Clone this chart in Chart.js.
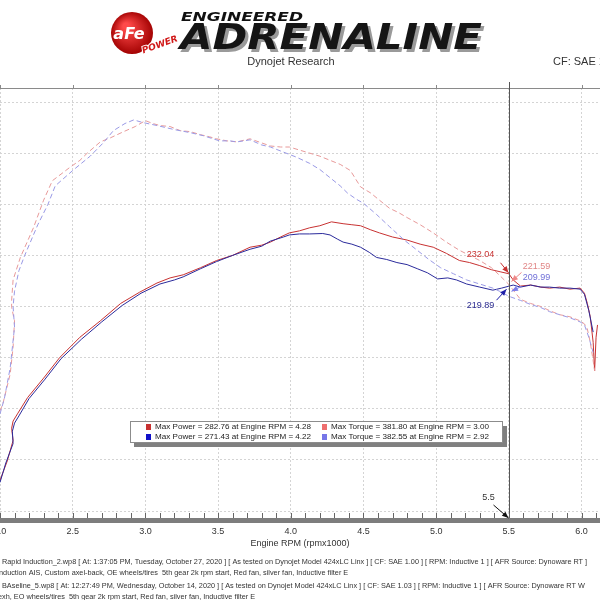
<!DOCTYPE html>
<html>
<head>
<meta charset="utf-8">
<script src="https://cdn.jsdelivr.net/npm/chart.js@4.4.1/dist/chart.umd.min.js"></script>
<style>
  html, body { margin: 0; padding: 0; background: #fff; }
  #wrap { width: 600px; height: 600px; }
</style>
</head>
<body>
<div id="wrap"><canvas id="dyno" width="600" height="600"></canvas></div>
<script>
// RUN 1 - Rapid Induction (red)
const redPowerRpm = [2.00,2.05,2.09,2.08,2.09,2.12,2.19,2.30,2.41,2.55,2.69,2.83,2.96,3.08,3.17,3.26,3.38,3.49,3.60,3.72,3.80,3.86,3.93,3.99,4.06,4.13,4.20,4.28,4.36,4.42,4.48,4.55,4.61,4.70,4.80,4.89,4.98,5.07,5.16,5.23,5.30,5.38,5.44,5.50,5.53,5.58,5.65,5.72,5.78,5.85,5.92,5.99,6.02,6.04,6.06,6.08,6.09,6.10,6.11];
const redPower    = [30,49,69,81,88,95,111,130,150,170,186,203,214,223,228,231,238,245,250,258,260,263,268,272,274,277,279,282.8,281,280,279,275,272,268,265,261,258,252,245,243,240,236,234,232.04,226,220,221,219,218,219,217,218,213,203,190,165,137,170,182];
const redTorqueRpm = [2.00,2.02,2.07,2.09,2.10,2.08,2.08,2.09,2.14,2.23,2.30,2.36,2.48,2.55,2.60,2.69,2.76,2.85,2.93,3.00,3.05,3.10,3.17,3.24,3.31,3.38,3.44,3.49,3.56,3.63,3.72,3.80,3.86,3.93,3.99,4.06,4.13,4.20,4.27,4.34,4.41,4.48,4.55,4.61,4.68,4.74,4.80,4.89,4.98,5.07,5.16,5.23,5.30,5.38,5.44,5.50,5.58,5.65,5.72,5.78,5.85,5.92,5.99,6.02,6.04,6.06,6.08,6.09];
const redTorque    = [98,105,134,160,186,199,206,226,248,277,304,323,336,343,350,361,365,371,376,381.8,379,377,376,372,371,368,366,364,362,361,364,360,357,356,356,353,350,347,343,339,333,317,311,304,296,292,287,280,272,263,255,250,245,238,230,221.59,207,203,200,196,192,190,186,183,178,165,147,137];

// RUN 2 - Baseline (blue)
const bluePowerRpm = [2.00,2.04,2.09,2.085,2.10,2.13,2.20,2.31,2.42,2.56,2.70,2.84,2.97,3.10,3.20,3.26,3.38,3.49,3.60,3.72,3.80,3.86,3.95,3.99,4.06,4.13,4.22,4.27,4.32,4.36,4.42,4.48,4.54,4.59,4.66,4.73,4.80,4.87,4.94,5.01,5.08,5.14,5.21,5.30,5.39,5.45,5.50,5.53,5.58,5.65,5.72,5.78,5.85,5.92,5.99,6.02,6.05,6.08];
const bluePower    = [28,47,66,78,86,93,110,129,149,168,185,201,213,222,226,229,237,244,250,256,259,264,268,270,271,271,271.4,270,266,263,261,258,253,248,246,243,241,237,233,227,228,226,222,219,216,218,219.89,221,219,221,219,219,218,218,217,212,196,175];
const blueTorqueRpm = [2.00,2.03,2.07,2.10,2.09,2.10,2.13,2.17,2.26,2.33,2.38,2.50,2.62,2.71,2.78,2.86,2.92,2.98,3.08,3.14,3.20,3.31,3.40,3.51,3.58,3.63,3.72,3.80,3.86,3.95,4.04,4.13,4.20,4.27,4.34,4.39,4.45,4.50,4.59,4.68,4.78,4.87,4.95,5.03,5.12,5.21,5.30,5.39,5.45,5.50,5.58,5.65,5.72,5.78,5.85,5.92,5.99,6.02,6.05,6.08];
const blueTorque    = [95,110,140,180,200,215,235,250,280,300,318,333,347,360,372,379,382.5,380,377,375,373,370,367,362,362,361,363,358,356,351,346,340,334,326,318,311,305,301,290,278,265,255,246,238,232,226,222,218,214,209.99,206,202,199,195,192,189,185,182,170,155];

// axis / cursor
const rpmTicks = [2.0,2.5,3.0,3.5,4.0,4.5,5.0,5.5,6.0];
const valueTicks = [0,50,100,150,200,250,300,350,400];
const cursorRpm = 5.5;

// legend + cursor readouts
const legendRows = [
  ["Max Power = 282.76 at Engine RPM = 4.28", "Max Torque = 381.80 at Engine RPM = 3.00"],
  ["Max Power = 271.43 at Engine RPM = 4.22", "Max Torque = 382.55 at Engine RPM = 2.92"]
];
const cursorValues = [232.04, 221.59, 209.99, 219.89];

const footerLines = [
  "Rapid Induction_2.wp8 [ At: 1:37:05 PM, Tuesday, October 27, 2020 ] [ As tested on Dynojet Model 424xLC Linx ] [ CF: SAE 1.00 ] [ RPM: Inductive 1 ] [ AFR Source: Dynoware RT ]",
  "Induction AIS, Custom axel-back, OE wheels/tires  5th gear 2k rpm start, Red fan, silver fan, Inductive filter E",
  "BAseline_5.wp8 [ At: 12:27:49 PM, Wednesday, October 14, 2020 ] [ As tested on Dynojet Model 424xLC Linx ] [ CF: SAE 1.03 ] [ RPM: Inductive 1 ] [ AFR Source: Dynoware RT W",
  "exh, EO wheels/tires  5th gear 2k rpm start, Red fan, silver fan, Inductive filter E"
];

const RED = "#c83232", BLUE = "#2b2b9c", RED_T = "#e89a9a", BLUE_T = "#9a9ae6";

const pts = (xs, ys) => xs.map((x, i) => ({x: x, y: ys[i]}));

const arrow = (ctx, x1, y1, x2, y2, color) => {
  ctx.strokeStyle = color; ctx.fillStyle = color; ctx.lineWidth = 1;
  ctx.beginPath(); ctx.moveTo(x1, y1); ctx.lineTo(x2, y2); ctx.stroke();
  const a = Math.atan2(y2 - y1, x2 - x1);
  ctx.beginPath();
  ctx.moveTo(x2, y2);
  ctx.lineTo(x2 - 7 * Math.cos(a - 0.4), y2 - 7 * Math.sin(a - 0.4));
  ctx.lineTo(x2 - 7 * Math.cos(a + 0.4), y2 - 7 * Math.sin(a + 0.4));
  ctx.closePath(); ctx.fill();
}

const fitText = (ctx, text, x, y, w) => {
  const m = ctx.measureText(text).width;
  ctx.save(); ctx.translate(x, y); ctx.scale(w / m, 1);
  ctx.fillText(text, 0, 0); ctx.restore();
}

const extras = {
  id: "dynoExtras",
  beforeDraw(chart) {
    const ctx = chart.ctx;
    ctx.save(); ctx.fillStyle = "#fff"; ctx.fillRect(0, 0, 600, 600); ctx.restore();
  },
  afterDraw(chart) {
    const ctx = chart.ctx, xs = chart.scales.x, ys = chart.scales.y, ca = chart.chartArea;
    ctx.save();

    // HEADER LOGO
    const g = ctx.createRadialGradient(126, 26, 3, 132, 33, 22);
    g.addColorStop(0, "#ff4a4a"); g.addColorStop(1, "#a00000");
    ctx.fillStyle = g;
    ctx.beginPath(); ctx.arc(132, 33, 21, 0, Math.PI * 2); ctx.fill();
    ctx.fillStyle = "#fff"; ctx.font = "bold italic 16px 'DejaVu Sans'";
    ctx.textAlign = "center"; ctx.textBaseline = "middle";
    ctx.fillText("aFe", 129, 35);
    ctx.save(); ctx.translate(160, 45); ctx.rotate(-0.35);
    ctx.font = "bold italic 9px 'DejaVu Sans'";
    ctx.lineWidth = 2; ctx.strokeStyle = "#fff"; ctx.strokeText("POWER", 0, 0);
    ctx.fillStyle = "#d01818"; ctx.fillText("POWER", 0, 0);
    ctx.restore();

    ctx.textAlign = "left"; ctx.textBaseline = "alphabetic";
    ctx.fillStyle = "#111"; ctx.font = "bold italic 13px 'DejaVu Sans'";
    fitText(ctx, "ENGINEERED", 181, 21, 122);
    ctx.font = "bold italic 36px 'DejaVu Sans'";
    ctx.fillStyle = "#9a9a9a";
    fitText(ctx, "ADRENALINE", 183, 52, 302);
    ctx.fillStyle = "#151515";
    fitText(ctx, "ADRENALINE", 180, 49, 302);

    ctx.fillStyle = "#333"; ctx.font = "11px 'Liberation Sans'";
    ctx.textAlign = "center"; ctx.textBaseline = "middle";
    ctx.fillText("Dynojet Research", 291, 62);
    ctx.textAlign = "left";
    ctx.fillText("CF: SAE 1.00", 553, 62);

    // top frame line with ticks
    ctx.strokeStyle = "#8a8a8a"; ctx.lineWidth = 1;
    ctx.beginPath(); ctx.moveTo(0, ca.top + 0.5); ctx.lineTo(600, ca.top + 0.5); ctx.stroke();
    rpmTicks.forEach(v => {
      const px = Math.round(xs.getPixelForValue(v)) + 0.5;
      ctx.beginPath(); ctx.moveTo(px, ca.top - 3); ctx.lineTo(px, ca.top); ctx.stroke();
    });

    // cursor line
    const cx = Math.round(xs.getPixelForValue(cursorRpm)) + 0.5;
    ctx.strokeStyle = "#555";
    ctx.beginPath(); ctx.moveTo(cx, ca.top - 6); ctx.lineTo(cx, ca.bottom + 4); ctx.stroke();

    // bottom axis bar + minor ticks
    ctx.fillStyle = "#7d7d7d";
    ctx.fillRect(0, ca.bottom, 600, 5);
    ctx.strokeStyle = "#666";
    for (let v = 2.0; v <= 6.15; v += 0.1) {
      const px = Math.round(xs.getPixelForValue(v)) + 0.5;
      ctx.beginPath(); ctx.moveTo(px, ca.bottom - 5); ctx.lineTo(px, ca.bottom); ctx.stroke();
    }

    // cursor rpm marker
    ctx.fillStyle = "#333"; ctx.font = "9px 'Liberation Sans'";
    ctx.textAlign = "center"; ctx.textBaseline = "middle";
    ctx.fillText("5.5", cx - 21, ca.bottom - 20);
    arrow(ctx, cx - 16, ca.bottom - 13, cx - 1, ca.bottom, "#111");

    // cursor readouts
    const cy = cursorValues.map(v => ys.getPixelForValue(v));
    ctx.font = "9px 'Liberation Sans'";
    arrow(ctx, cx - 9, cy[0] - 11, cx - 1, cy[0] - 1, RED);
    ctx.fillStyle = RED; ctx.fillText("232.04", cx - 29, cy[0] - 19);
    arrow(ctx, cx + 12, cy[1] - 12, cx + 2, cy[1] - 3, "#ee8888");
    ctx.fillStyle = "#e08585"; ctx.fillText("221.59", cx + 27, cy[1] - 18);
    arrow(ctx, cx + 12, cy[2] - 10, cx + 2, cy[2] - 5, "#7d7de8");
    ctx.fillStyle = "#7070d8"; ctx.fillText("209.99", cx + 27, cy[2] - 19);
    arrow(ctx, cx - 13, cy[3] + 14, cx - 3, cy[3] + 3, "#1e1ea8");
    ctx.fillStyle = "#2a2a90"; ctx.fillText("219.89", cx - 29, cy[3] + 19);

    // legend box
    ctx.fillStyle = "#808080"; ctx.fillRect(134, 426, 373, 21);
    ctx.fillStyle = "#fff"; ctx.fillRect(130, 421, 372, 21);
    ctx.strokeStyle = "#8c8c8c"; ctx.strokeRect(130.5, 421.5, 372, 21);
    ctx.font = "8.1px 'Liberation Sans'"; ctx.textAlign = "left";
    const sw = [[RED, "#ee6f6f"], ["#1010c8", "#7676e8"]];
    legendRows.forEach((row, i) => {
      const y = 427 + i * 10;
      ctx.fillStyle = sw[i][0]; ctx.fillRect(146, y - 3, 5, 6);
      ctx.fillStyle = sw[i][1]; ctx.fillRect(322, y - 3, 5, 6);
      ctx.fillStyle = "#222";
      ctx.fillText(row[0], 155, y);
      ctx.fillText(row[1], 331, y);
    });

    // footer
    ctx.fillStyle = "#333"; ctx.font = "7.3px 'Liberation Sans'";
    ctx.fillText(footerLines[0], 2, 562);
    ctx.fillText(footerLines[1], -3, 573);
    ctx.fillText(footerLines[2], 2, 586);
    ctx.fillText(footerLines[3], -2, 597);

    ctx.restore();
  }
};

const mkSet = (label, data, color, dashed) => ({
  label: label,
  data: data,
  borderColor: color,
  borderWidth: 1,
  borderDash: dashed ? [5, 3] : [],
  pointRadius: 0,
  fill: false,
  tension: 0
});

new Chart("dyno", {
  type: "line",
  data: {
    datasets: [
      mkSet("Torque (Baseline)", pts(blueTorqueRpm, blueTorque), BLUE_T, true),
      mkSet("Torque (Rapid Induction)", pts(redTorqueRpm, redTorque), RED_T, true),
      mkSet("Power (Baseline)", pts(bluePowerRpm, bluePower), BLUE, false),
      mkSet("Power (Rapid Induction)", pts(redPowerRpm, redPower), RED, false)
    ]
  },
  options: {
    responsive: false,
    animation: false,
    devicePixelRatio: 1,
    layout: {padding: {top: 88, left: 0, right: 0, bottom: 0}},
    plugins: {legend: {display: false}, tooltip: {enabled: false}},
    scales: {
      x: {
        type: "linear",
        min: 2.0,
        max: 6.127,
        afterBuildTicks: s => { s.ticks = rpmTicks.map(v => ({value: v})); },
        afterFit: s => { s.height = 82; s.paddingLeft = 0; s.paddingRight = 0; },
        grid: {color: "#d4d4d4", drawTicks: false},
        border: {display: false, dash: [2, 2]},
        ticks: {
          color: "#333",
          font: {family: "Liberation Sans", size: 9},
          padding: 8,
          maxRotation: 0,
          callback: v => v.toFixed(1)
        },
        title: {
          display: true,
          text: "Engine RPM (rpmx1000)",
          color: "#333",
          font: {family: "Liberation Sans", size: 9},
          padding: {top: 0, bottom: 51}
        }
      },
      y: {
        min: -6.8,
        max: 413.7,
        afterBuildTicks: s => { s.ticks = valueTicks.map(v => ({value: v})); },
        afterFit: s => { s.width = 0; s.paddingTop = 0; s.paddingBottom = 0; },
        grid: {color: "#d4d4d4", drawTicks: false},
        border: {display: false, dash: [2, 2]},
        ticks: {display: false}
      }
    }
  },
  plugins: [extras]
});
</script>
</body>
</html>
